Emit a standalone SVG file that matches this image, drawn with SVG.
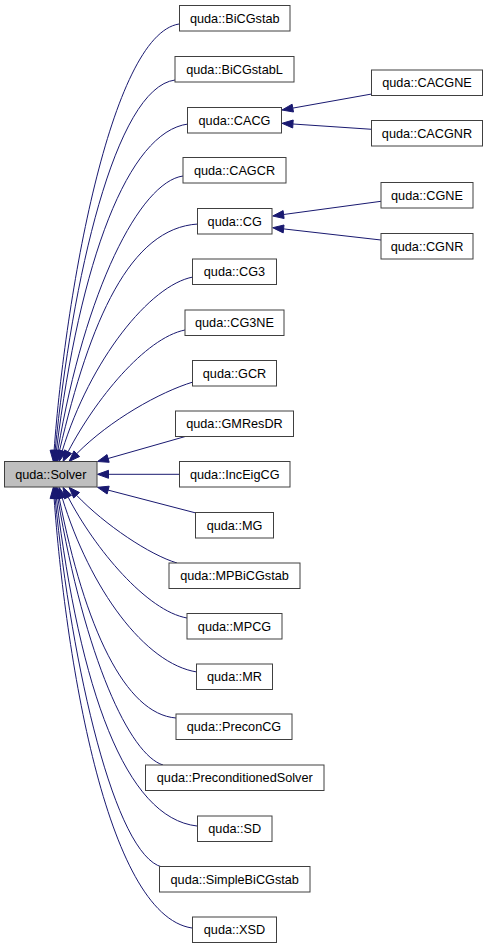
<svg xmlns="http://www.w3.org/2000/svg" width="488" height="949" viewBox="0 0 488 949">
<style>
.n rect{fill:#ffffff;stroke:#404040;stroke-width:1}
.n text{font-family:"Liberation Sans",Arial,sans-serif;font-size:12.7px;text-anchor:middle;fill:#000}
#solver rect{fill:#bfbfbf}
.e path{fill:none;stroke:#191970;stroke-width:1}
.e polygon{fill:#191970;stroke:#191970;stroke-width:1}
</style>
<rect width="488" height="949" fill="#ffffff"/>
<g id="edges" class="e">
<path d="M179,24 C110,35 65,300 54.1,450.5"/><polygon points="58.1,450.8 53.3,461.5 50.1,450.2"/>
<path d="M175,80 C115,88 72,280 55.1,450.6"/><polygon points="59.1,450.9 54,461.5 51.1,450.2"/>
<path d="M188,124 C128,132 80,260 56.4,450.6"/><polygon points="60.3,451.1 55,461.5 52.4,450.1"/>
<path d="M183,176 C140,182 85,290 57.8,450.7"/><polygon points="61.8,451.3 56,461.5 53.9,450"/>
<path d="M198,224 C130,228 90,320 59.5,450.8"/><polygon points="63.4,451.7 57,461.5 55.6,449.9"/>
<path d="M193,277 C150,285 90,360 62.2,451"/><polygon points="66,452.1 59,461.5 58.4,449.8"/>
<path d="M185,330 C145,338 95,400 68.1,451.7"/><polygon points="71.6,453.6 63,461.5 64.5,449.9"/>
<path d="M193,382 C160,392 110,420 76.7,453.7"/><polygon points="79.6,456.5 69,461.5 73.9,450.9"/>
<path d="M186,436.3 L108.1,458.5"/><polygon points="109.2,462.3 97.5,461.5 107,454.6"/>
<path d="M179.5,474.3 L108.5,474.3"/><polygon points="108.5,478.3 97.5,474.3 108.5,470.3"/>
<path d="M196,513 L108.1,490.1"/><polygon points="109.2,486.2 97.5,487.3 107.1,494"/>
<path d="M177,563 C150,555 105,525 76.6,495.3"/><polygon points="79.5,492.5 69,487.3 73.7,498"/>
<path d="M187,618 C147,611 95,549 68.1,497.1"/><polygon points="71.6,495.2 63,487.3 64.5,498.9"/>
<path d="M197,672 C145,664 90,589 62.2,497.8"/><polygon points="66,496.7 59,487.3 58.4,499"/>
<path d="M176,718 C125,714 85,628 59.2,498.1"/><polygon points="63.1,497.3 57,487.3 55.2,498.9"/>
<path d="M163,765 C130,755 85,659 57.8,498.2"/><polygon points="61.8,497.5 56,487.3 53.9,498.8"/>
<path d="M197,826 C125,818 80,689 56.4,498.2"/><polygon points="60.3,497.7 55,487.3 52.4,498.7"/>
<path d="M162,867 C115,855 72,669 55.1,498.3"/><polygon points="59.1,497.9 54,487.3 51.1,498.6"/>
<path d="M192,928 C105,915 65,649 54.1,498.3"/><polygon points="58.1,498 53.3,487.3 50.1,498.6"/>
<path d="M371.7,94 L292.8,108.1"/><polygon points="293.5,112 282,110 292.1,104.2"/>
<path d="M371.7,129.3 L293,124"/><polygon points="292.7,128 282,123.3 293.2,120"/>
<path d="M381,201.3 L283.6,214.5"/><polygon points="284.1,218.5 272.7,216 283.1,210.6"/>
<path d="M381,240 L283.6,228.9"/><polygon points="283.2,232.9 272.7,227.7 284,225"/>
</g>
<g id="solver" class="n"><rect x="4.5" y="461.5" width="92.5" height="25.5"/><text x="50.75" y="478.7">quda::Solver</text></g>
<g id="bicgstab" class="n"><rect x="179.5" y="5.5" width="110.5" height="25.5"/><text x="234.75" y="22.7">quda::BiCGstab</text></g>
<g id="bicgstabl" class="n"><rect x="175" y="56.5" width="119" height="25.5"/><text x="234.5" y="73.7">quda::BiCGstabL</text></g>
<g id="cacg" class="n"><rect x="187.5" y="107.5" width="94" height="25.5"/><text x="234.5" y="124.7">quda::CACG</text></g>
<g id="cacgne" class="n"><rect x="371.5" y="70" width="111" height="25.5"/><text x="427" y="87.2">quda::CACGNE</text></g>
<g id="cacgnr" class="n"><rect x="371.5" y="120.5" width="111" height="25.5"/><text x="427" y="137.7">quda::CACGNR</text></g>
<g id="cagcr" class="n"><rect x="183" y="157.5" width="103" height="25.5"/><text x="234.5" y="174.7">quda::CAGCR</text></g>
<g id="cg" class="n"><rect x="197.5" y="208.5" width="74.5" height="25.5"/><text x="234.75" y="225.7">quda::CG</text></g>
<g id="cgne" class="n"><rect x="381" y="182.5" width="92" height="25.5"/><text x="427" y="199.7">quda::CGNE</text></g>
<g id="cgnr" class="n"><rect x="381" y="233.5" width="92" height="25.5"/><text x="427" y="250.7">quda::CGNR</text></g>
<g id="cg3" class="n"><rect x="192.5" y="259" width="84" height="25.5"/><text x="234.5" y="276.2">quda::CG3</text></g>
<g id="cg3ne" class="n"><rect x="185" y="310" width="99" height="25.5"/><text x="234.5" y="327.2">quda::CG3NE</text></g>
<g id="gcr" class="n"><rect x="192.5" y="360.5" width="84" height="25.5"/><text x="234.5" y="377.7">quda::GCR</text></g>
<g id="gmresdr" class="n"><rect x="175.5" y="411" width="118" height="25.5"/><text x="234.5" y="428.2">quda::GMResDR</text></g>
<g id="inceigcg" class="n"><rect x="179.5" y="461.5" width="110.5" height="25.5"/><text x="234.75" y="478.7">quda::IncEigCG</text></g>
<g id="mg" class="n"><rect x="195.5" y="512.5" width="78" height="25.5"/><text x="234.5" y="529.7">quda::MG</text></g>
<g id="mpbicgstab" class="n"><rect x="169" y="563" width="131" height="25.5"/><text x="234.5" y="580.2">quda::MPBiCGstab</text></g>
<g id="mpcg" class="n"><rect x="187" y="613.5" width="95" height="25.5"/><text x="234.5" y="630.7">quda::MPCG</text></g>
<g id="mr" class="n"><rect x="196.5" y="664" width="76" height="25.5"/><text x="234.5" y="681.2">quda::MR</text></g>
<g id="preconcg" class="n"><rect x="176" y="714" width="116" height="25.5"/><text x="234" y="731.2">quda::PreconCG</text></g>
<g id="preconditionedsolver" class="n"><rect x="145.5" y="765" width="178.5" height="25.5"/><text x="234.75" y="782.2">quda::PreconditionedSolver</text></g>
<g id="sd" class="n"><rect x="197.5" y="816" width="74.5" height="25.5"/><text x="234.75" y="833.2">quda::SD</text></g>
<g id="simplebicgstab" class="n"><rect x="159.5" y="866.5" width="150.5" height="25.5"/><text x="234.75" y="883.7">quda::SimpleBiCGstab</text></g>
<g id="xsd" class="n"><rect x="192.5" y="917" width="84" height="25.5"/><text x="234.5" y="934.2">quda::XSD</text></g>
</svg>
